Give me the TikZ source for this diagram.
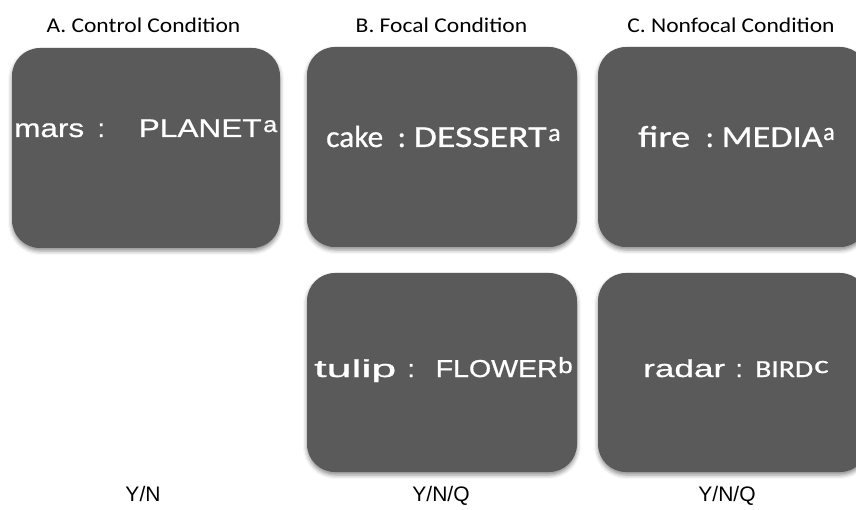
\documentclass[tikz,border=0pt]{standalone}
\usepackage{fontspec}
\usepackage{graphicx}
\setmainfont{Carlito}
\newfontfamily\arial[FakeBold=0.7]{Liberation Sans}
\newfontfamily\calibri[FakeBold=0.7]{Carlito}
\newfontfamily\plainarial{Liberation Sans}
\newfontfamily\plaincalibri{Carlito}
\usetikzlibrary{shadows.blur}
\definecolor{boxgray}{RGB}{90,90,90}
\tikzset{
  card/.style={draw=none, fill=boxgray, rounded corners=28pt,
    minimum width=270pt, minimum height=200pt, inner sep=0pt,
    blur shadow={shadow xshift=0pt, shadow yshift=-3pt, shadow blur radius=4pt, shadow opacity=45}},
  piece/.style={text=white, inner sep=0pt, anchor=base west},
  arialbig/.style={piece, font=\arial\fontsize{25.5}{28}\selectfont},
  arialmid/.style={piece, font=\arial\fontsize{24.5}{28}\selectfont},
  arialsup/.style={piece, font=\arial\fontsize{22}{24}\selectfont},
  calbig/.style={piece, font=\calibri\fontsize{30.5}{32}\selectfont},
  calmid/.style={piece, font=\calibri\fontsize{24.5}{28}\selectfont},
  calsup/.style={piece, font=\calibri\fontsize{25}{28}\selectfont},
  titletext/.style={font=\plaincalibri\fontsize{21}{24}\selectfont, inner sep=0pt, anchor=base},
  answer/.style={font=\plainarial\fontsize{21}{24}\selectfont, inner sep=0pt, anchor=base}
}
\newcommand{\fitw}[2]{\resizebox{#1}{\height}{#2}}
\newcommand{\tstretch}[1]{\scalebox{1.12}[1]{#1}}
\begin{document}
\begin{tikzpicture}[x=1pt,y=-1pt]
  \useasboundingbox (0,0) rectangle (856,510);
  % titles
  \node[titletext] (ta) at (143.5,33) {\tstretch{A. Control Condition}};
  \node[titletext] (tb) at (441.5,33) {\tstretch{B. Focal Condition}};
  \node[titletext] (tc) at (731,33) {\tstretch{C. Nonfocal Condition}};
  % cards
  \node[card, minimum width=268pt] (ca) at (146,148) {};
  \node[card] (cb) at (442,147) {};
  \node[card] (cc) at (733,147) {};
  \node[card, minimum height=199pt] (cb2) at (442,372.5) {};
  \node[card, minimum height=199pt] (cc2) at (733,372.5) {};
  % card A text
  \node[arialbig] (a1) at (14,137) {\fitw{70pt}{mars}};
  \node[arialbig] (a2) at (97.5,137) {:};
  \node[arialbig] (a3) at (138.5,137) {\fitw{123pt}{PLANET}};
  \node[arialsup] (a4) at (263,132) {\fitw{14pt}{a}};
  % card B text
  \node[calbig] (b1) at (326,147) {\fitw{57pt}{cake}};
  \node[calbig] (b2) at (397.5,147) {:};
  \node[calbig] (b3) at (413.5,147) {\fitw{133pt}{DESSERT}};
  \node[calsup] (b4) at (548,141) {\fitw{12.5pt}{a}};
  % card C text
  \node[calbig] (c1) at (638,147) {\fitw{52pt}{fire}};
  \node[calbig] (c2) at (705.5,147) {:};
  \node[calbig] (c3) at (721.5,147) {\fitw{101pt}{MEDIA}};
  \node[calsup] (c4) at (823,140) {\fitw{11.5pt}{a}};
  % card B2 text
  \node[arialmid] (d1) at (314,377) {\fitw{82pt}{tulip}};
  \node[arialmid] (d2) at (407.5,377) {:};
  \node[arialmid] (d3) at (435.5,377) {\fitw{122pt}{FLOWER}};
  \node[arialsup] (d4) at (558,373) {\fitw{14.5pt}{b}};
  % card C2 text
  \node[arialmid] (e1) at (643,377) {\fitw{82pt}{radar}};
  \node[arialmid] (e2) at (735.5,377) {:};
  \node[calmid] (e3) at (755,377) {\fitw{58pt}{BIRD}};
  \node[calsup] (e4) at (814,373) {\fitw{14.5pt}{c}};
  % answers
  \node[answer] (ya) at (143,501) {Y/N};
  \node[answer] (yb) at (441,501) {Y/N/Q};
  \node[answer] (yc) at (727,501) {Y/N/Q};
\end{tikzpicture}
\end{document}
